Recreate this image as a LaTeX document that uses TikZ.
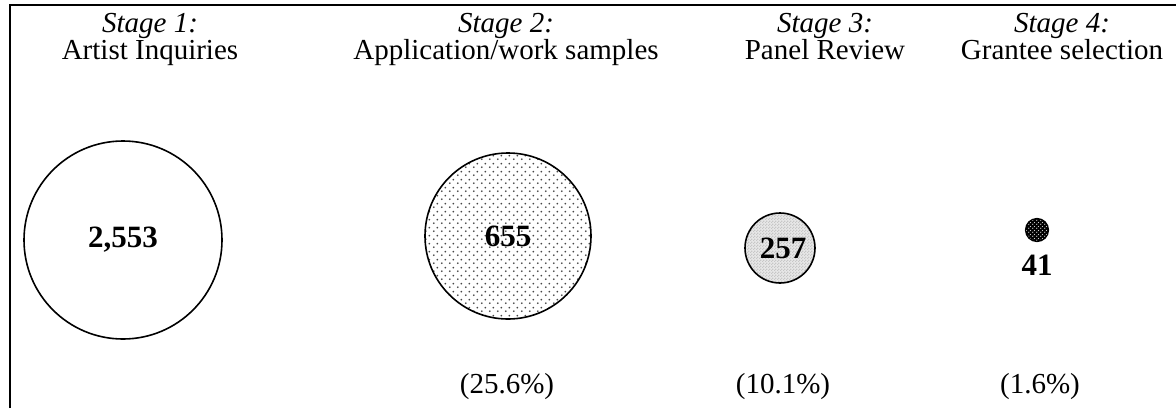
\documentclass[tikz,border=0pt]{standalone}
\usepackage{fontspec}
\setmainfont{Liberation Serif}
\usetikzlibrary{patterns.meta}

% sparse staggered dot screen
\tikzdeclarepattern{
  name=sparsedots,
  type=uncolored,
  bounding box={(0pt,0pt) and (8pt,8pt)},
  tile size={(8pt,8pt)},
  code={
    \fill (2pt,2pt) circle (1.1pt);
    \fill (6pt,6pt) circle (1.1pt);
  }
}
% fine checker texture
\tikzdeclarepattern{
  name=finechecker,
  type=uncolored,
  bounding box={(0pt,0pt) and (3pt,3pt)},
  tile size={(3pt,3pt)},
  code={
    \fill (0pt,0pt) rectangle (1.5pt,1.5pt);
    \fill (1.5pt,1.5pt) rectangle (3pt,3pt);
  }
}
% dense dot screen (used white on black)
\tikzdeclarepattern{
  name=densedots,
  type=uncolored,
  bounding box={(0pt,0pt) and (4pt,4pt)},
  tile size={(4pt,4pt)},
  code={
    \fill (1pt,1pt) circle (0.8pt);
    \fill (3pt,3pt) circle (0.8pt);
  }
}

\tikzset{
  stagehead/.style={font=\fontsize{29}{34}\selectfont\itshape, inner sep=0pt, anchor=base},
  stagename/.style={font=\fontsize{29}{34}\selectfont, inner sep=0pt, anchor=base},
  count/.style={font=\fontsize{31}{36}\selectfont\bfseries, inner sep=0pt},
  share/.style={font=\fontsize{29}{34}\selectfont, inner sep=0pt, anchor=base},
  bubble/.style={circle, draw=black, line width=1.6pt, inner sep=0pt},
}

\begin{document}
\begin{tikzpicture}[x=1pt, y=-1pt]
  \useasboundingbox (0,0) rectangle (1176,408);

  % open frame: top and left edges only
  \draw[line width=2.6pt] (10,408) -- (10,5) -- (1176,5);

  % stage headings
  \node[stagehead] (h1) at (150,32) {Stage 1:};
  \node[stagename] (n1) at (150,59) {Artist Inquiries};
  \node[stagehead] (h2) at (506,32) {Stage 2:};
  \node[stagename] (n2) at (506,59) {Application/work samples};
  \node[stagehead] (h3) at (825,32) {Stage 3:};
  \node[stagename] (n3) at (825,59) {Panel Review};
  \node[stagehead] (h4) at (1062,32) {Stage 4:};
  \node[stagename] (n4) at (1062,59) {Grantee selection};

  % bubbles, sized by count
  \node[bubble, minimum size=198pt, fill=white] (c1) at (123,240) {};
  \node[bubble, minimum size=166pt, pattern={sparsedots}, pattern color=black!72,
        preaction={fill=white}] (c2) at (508,236) {};
  \node[bubble, minimum size=70pt, preaction={fill=black!9},
        pattern={finechecker}, pattern color=black!22] (c3) at (780,248) {};
  \node[bubble, minimum size=23pt, line width=1.2pt, preaction={fill=black},
        pattern={densedots}, pattern color=white!80!black] (c4) at (1037,230) {};

  % counts
  \node[count] (v1) at (c1) {2,553};
  \node[count] (v2) at (c2) {655};
  \node[count] (v3) at ([xshift=3pt]c3.center) {257};
  \node[count, anchor=north] (v4) at ([yshift=-13pt]c4.south) {41};

  % shares of inquiries
  \node[share] (p2) at (507,393) {(25.6\%)};
  \node[share] (p3) at (783,393) {(10.1\%)};
  \node[share] (p4) at (1040,393) {(1.6\%)};
\end{tikzpicture}
\end{document}
